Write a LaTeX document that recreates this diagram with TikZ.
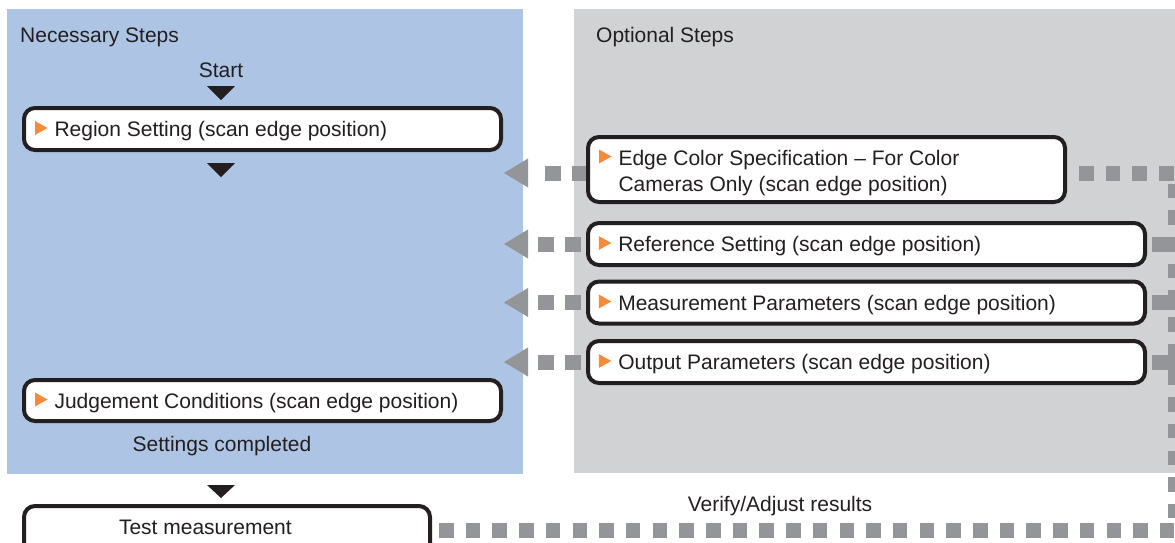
\documentclass[tikz,border=0pt]{standalone}
\usepackage{fontspec}
\setmainfont{Liberation Sans}
\usetikzlibrary{arrows.meta}
\definecolor{bluep}{HTML}{AEC4E4}
\definecolor{grayp}{HTML}{D1D2D4}
\definecolor{dashg}{HTML}{939598}
\definecolor{orangec}{HTML}{F68B3C}
\definecolor{ink}{HTML}{231F20}
\pgfdeclarelayer{panels}
\pgfdeclarelayer{links}
\pgfsetlayers{panels,links,main}
\newcommand{\otri}{\tikz[baseline=-1.5pt]\fill[orangec,sharp corners] (0pt,0pt) -- (0pt,14pt) -- (12.5pt,7pt) -- cycle;}
\tikzset{
  stepbox/.style={draw=ink, line width=4pt, fill=white, rounded corners=11pt,
    inner sep=0pt, text=ink, font=\fontsize{21}{26}\selectfont,
    text height=15pt, text depth=0pt},
  plainlabel/.style={inner sep=0pt, text=ink, font=\fontsize{21}{26}\selectfont},
  flowtri/.style={fill=ink},
  link/.style={draw=dashg, line width=15pt},
  backlink/.style={link, -{Triangle[width=29pt,length=24pt,line width=0pt]}},
  looplink/.style={link, dash pattern=on 14.5pt off 12.2pt}
}
\begin{document}
\begin{tikzpicture}[x=1pt,y=-1pt]
\useasboundingbox (0,0) rectangle (1175,542);
\begin{pgfonlayer}{panels}
  \fill[bluep] (7,9) rectangle (523,474);
  \fill[grayp] (574,9) rectangle (1185,473);
\end{pgfonlayer}

% labels
\node[plainlabel, anchor=base west] (nec) at (20,42.3) {Necessary Steps};
\node[plainlabel, anchor=base west] (opt) at (596,42) {Optional Steps};
\node[plainlabel, anchor=base] (start) at (221,77.3) {Start};
\node[plainlabel, anchor=base] (done) at (222,451) {Settings completed};
\node[plainlabel, anchor=base] (verify) at (780,511) {Verify/Adjust results};

% flow triangles
\fill[flowtri] (207,86) -- (235,86) -- (221,100) -- cycle;
\fill[flowtri] (207,163) -- (235,163) -- (221,177) -- cycle;
\fill[flowtri] (207,485) -- (235,485) -- (221,498) -- cycle;

% necessary steps
\node[stepbox, minimum width=477pt, minimum height=42pt] (region) at (262.5,129)
  {\otri\hspace{7pt}\makebox[435.5pt][l]{Region Setting (scan edge position)}};
\node[stepbox, minimum width=477pt, minimum height=41pt] (judge) at (262.5,400.5)
  {\otri\hspace{7pt}\makebox[435.5pt][l]{Judgement Conditions (scan edge position)}};
\node[stepbox, minimum width=406pt, minimum height=48pt, text depth=6pt] (test) at (227,530)
  {\makebox[216pt][l]{Test measurement}};

% optional steps
\node[stepbox, minimum width=477pt, minimum height=65pt, text depth=24pt] (edge) at (826.5,169.5)
  {\otri\hspace{7pt}\parbox[t]{435.5pt}{Edge Color Specification – For Color\\Cameras Only (scan edge position)}};
\node[stepbox, minimum width=557pt, minimum height=42pt] (ref) at (866.5,244)
  {\otri\hspace{7pt}\makebox[516pt][l]{Reference Setting (scan edge position)}};
\node[stepbox, minimum width=557pt, minimum height=42pt] (meas) at (866.5,302.5)
  {\otri\hspace{7pt}\makebox[516pt][l]{Measurement Parameters (scan edge position)}};
\node[stepbox, minimum width=557pt, minimum height=42pt] (out) at (866.5,362)
  {\otri\hspace{7pt}\makebox[516pt][l]{Output Parameters (scan edge position)}};

% connector end points
\coordinate (ct) at (1175,173);
\coordinate (cb) at (1175,530);
\coordinate (a1) at (504,173);
\coordinate (a2) at (504,244);
\coordinate (a3) at (504,302.5);
\coordinate (a4) at (504,362);

\begin{pgfonlayer}{links}
  % back arrows into necessary steps
  \draw[backlink, dash pattern=on 14pt off 11pt on 16pt off 300pt] (edge.west |- ct) -- (a1);
  \draw[backlink, dash pattern=on 0pt off 5pt on 16pt off 11pt on 16pt off 300pt] (ref.west) -- (a2);
  \draw[backlink, dash pattern=on 0pt off 5pt on 16pt off 11pt on 16pt off 300pt] (meas.west) -- (a3);
  \draw[backlink, dash pattern=on 0pt off 5pt on 16pt off 11pt on 16pt off 300pt] (out.west) -- (a4);
  % verify / adjust loop
  \draw[looplink, dash phase=19.7pt] (test.east) -- (cb) -- (ct);
  \draw[looplink, dash phase=14.7pt] (edge.east |- ct) -- (ct);
  \draw[link, shorten <=5pt] (ref.east) -- (ref.east -| ct);
  \draw[link, shorten <=5pt] (meas.east) -- (meas.east -| ct);
  \draw[link, shorten <=5pt] (out.east) -- (out.east -| ct);
\end{pgfonlayer}
\end{tikzpicture}
\end{document}
